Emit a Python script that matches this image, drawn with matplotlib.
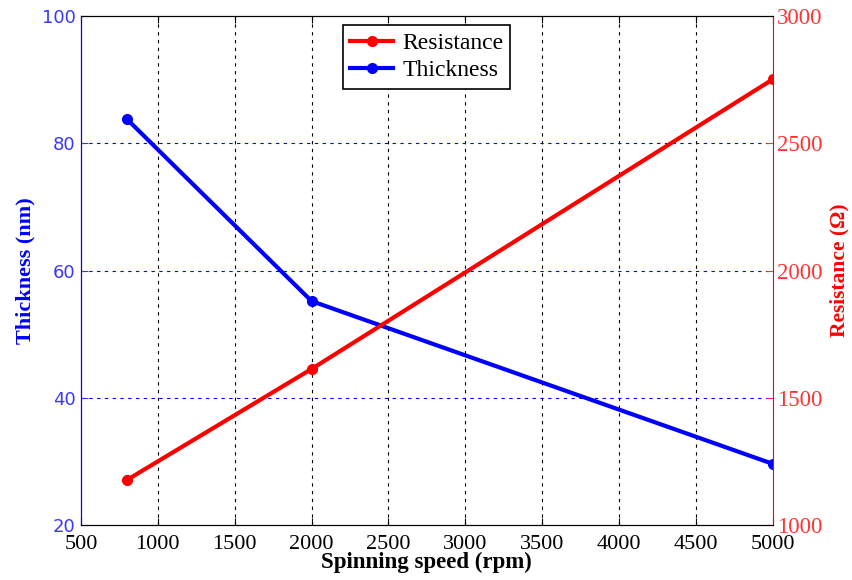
import matplotlib.pyplot as plt

plt.rcParams['font.family'] = ['Liberation Serif', 'DejaVu Serif']

speed = [800, 2000, 5000]
thickness = [83.8, 55.2, 29.6]
resistance = [1177, 1613, 2752]

x_ticks = [500, 1000, 1500, 2000, 2500, 3000, 3500, 4000, 4500, 5000]
left_ticks = [20, 40, 60, 80, 100]
right_ticks = [1000, 1500, 2000, 2500, 3000]

fig = plt.figure(figsize=(8.52, 5.8), dpi=100)
ax1 = fig.add_axes([0.095, 0.095, 0.812, 0.877])
ax2 = ax1.twinx()

l2, = ax1.plot(speed, thickness, color='blue', lw=3, marker='o', ms=7)
l1, = ax2.plot(speed, resistance, color='red', lw=3, marker='o', ms=7)

ax1.set_xlim(500, 5000)
ax1.set_ylim(20, 100)
ax2.set_ylim(1000, 3000)
ax1.set_xticks(x_ticks)
ax1.set_yticks(left_ticks)
ax2.set_yticks(right_ticks)

# grid: vertical black dotted, horizontal blue dotted
for xv in x_ticks[1:-1]:
    ax1.axvline(xv, color='black', ls=(0, (3, 4)), lw=0.8, zorder=0)
for yv in left_ticks[1:-1]:
    ax1.axhline(yv, color='blue', ls=(0, (3, 4)), lw=0.8, zorder=0)

ax1.tick_params(axis='x', direction='in', labelsize=16, colors='black', length=5, top=True, pad=7)
ax1.tick_params(axis='y', direction='in', labelsize=13, colors='#3838ff', length=5, pad=4)
ax2.tick_params(axis='y', direction='in', labelsize=16.5, colors='#ff3333', length=5, pad=3)
for lab in ax1.get_yticklabels():
    lab.set_family('DejaVu Sans')

ax1.spines['left'].set_color('blue')
ax2.spines['left'].set_color('blue')
ax2.spines['right'].set_color('red')
ax1.spines['right'].set_visible(False)

ax1.set_xlabel('Spinning speed (rpm)', fontsize=16.5, fontweight='bold', labelpad=-1)
ax1.set_ylabel('Thickness (nm)', fontsize=16, fontweight='bold', color='blue', labelpad=4)
ax2.set_ylabel('Resistance (\u03a9)', fontsize=15.5, fontweight='bold', color='red', labelpad=5)

leg = ax2.legend([l1, l2], ['Resistance', 'Thickness'], loc='upper center',
                 bbox_to_anchor=(0.5, 0.982), borderaxespad=0, fontsize=17,
                 fancybox=False, edgecolor='black', framealpha=1,
                 handlelength=1.8, handletextpad=0.4, labelspacing=0.25, borderpad=0.3)
leg.get_frame().set_linewidth(1.2)

fig.savefig('out.png', dpi=100)
